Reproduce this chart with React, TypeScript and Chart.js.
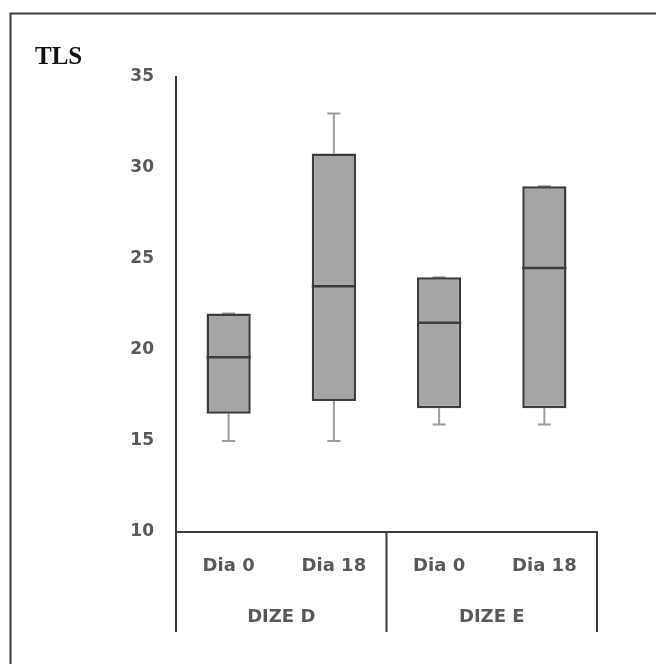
import React, { useEffect, useRef } from "react";
import { Chart, registerables } from "chart.js";

Chart.register(...registerables);

const categories = ["Dia 0", "Dia 18", "Dia 0", "Dia 18"];
const groups = ["DIZE D", "DIZE E"];
const minVals = [15, 15, 15.9, 15.9];
const q1Vals = [16.5, 17.2, 16.8, 16.8];
const medianVals = [19.6, 23.5, 21.5, 24.5];
const q3Vals = [22, 30.8, 24, 29];
const maxVals = [22, 33, 24, 29];
const yTicks = { min: 10, max: 35, step: 5 };
const titleText = "TLS";

const DARK = "#3c3c3c";
const WHISKER = "#9c9c9c";
const TEXT = "#595959";

const boxPlugin = {
  id: "boxExtras",
  beforeDraw(chart: any) {
    const ctx = chart.ctx;
    ctx.save();
    ctx.strokeStyle = "#3a3a3a";
    ctx.lineWidth = 2;
    ctx.strokeRect(10.5, 13.5, 2000, 2000);
    ctx.restore();
  },
  beforeDatasetsDraw(chart: any) {
    const ctx = chart.ctx;
    const y = chart.scales.y;
    const meta = chart.getDatasetMeta(0);
    ctx.save();
    meta.data.forEach((bar: any, i: number) => {
      const x = bar.x;
      const pMin = y.getPixelForValue(minVals[i]);
      const pQ1 = y.getPixelForValue(q1Vals[i]);
      const pQ3 = y.getPixelForValue(q3Vals[i]);
      const pMax = y.getPixelForValue(maxVals[i]);
      ctx.strokeStyle = WHISKER;
      ctx.lineWidth = 2;
      ctx.beginPath();
      ctx.moveTo(x, pQ1);
      ctx.lineTo(x, pMin);
      ctx.moveTo(x - 6.5, pMin);
      ctx.lineTo(x + 6.5, pMin);
      ctx.moveTo(x, pQ3);
      ctx.lineTo(x, pMax);
      ctx.moveTo(x - 6.5, pMax);
      ctx.lineTo(x + 6.5, pMax);
      ctx.stroke();
    });
    ctx.restore();
  },
  afterDatasetsDraw(chart: any) {
    const ctx = chart.ctx;
    const y = chart.scales.y;
    const meta = chart.getDatasetMeta(0);
    ctx.save();
    meta.data.forEach((bar: any, i: number) => {
      const x = bar.x;
      const half = bar.width / 2;
      const pMed = y.getPixelForValue(medianVals[i]);
      ctx.strokeStyle = DARK;
      ctx.lineWidth = 2.5;
      ctx.beginPath();
      ctx.moveTo(x - half, pMed);
      ctx.lineTo(x + half, pMed);
      ctx.stroke();
    });
    // group separators
    const xs = chart.scales.x;
    const x2 = chart.scales.x2;
    const mid = (xs.getPixelForValue(1) + xs.getPixelForValue(2)) / 2;
    ctx.strokeStyle = DARK;
    ctx.lineWidth = 2;
    ctx.beginPath();
    [xs.left, mid, xs.right].forEach((px: number) => {
      ctx.moveTo(px, xs.top);
      ctx.lineTo(px, x2.bottom);
    });
    ctx.stroke();
    ctx.restore();
  },
};

export default function App() {
  const ref = useRef<HTMLCanvasElement | null>(null);
  useEffect(() => {
    if (!ref.current) return;
    const chart = new Chart(ref.current, {
      type: "bar",
      data: {
        labels: categories,
        datasets: [
          {
            data: q1Vals.map((q, i) => [q, q3Vals[i]]) as any,
            backgroundColor: "#a6a6a6",
            borderColor: DARK,
            borderWidth: 2.5,
            borderSkipped: false,
            categoryPercentage: 1,
            barPercentage: 0.42,
          },
        ],
      },
      options: {
        responsive: false,
        animation: false,
        layout: { padding: { left: 35, right: 59, top: 0, bottom: 32 } },
        plugins: {
          legend: { display: false },
          tooltip: { enabled: false },
          title: {
            display: true,
            text: titleText,
            align: "start",
            color: "#111111",
            font: { family: "Liberation Serif", weight: "bold", size: 25, lineHeight: 1.2 },
            padding: { top: 43, bottom: 4 },
          },
        },
        scales: {
          y: {
            min: yTicks.min,
            max: yTicks.max,
            ticks: {
              stepSize: yTicks.step,
              padding: 22,
              color: TEXT,
              font: { family: "DejaVu Sans", weight: "bold", size: 17 },
            },
            grid: { display: false, drawTicks: false },
            border: { display: true, color: DARK, width: 2 },
            afterFit: (s: any) => {
              s.width = 141;
            },
          },
          x: {
            position: "bottom",
            ticks: {
              padding: 24,
              color: TEXT,
              font: { family: "DejaVu Sans", weight: "bold", size: 18 },
              maxRotation: 0,
              autoSkip: false,
            },
            grid: { display: false, drawTicks: false },
            border: { display: true, color: DARK, width: 2 },
            afterFit: (s: any) => {
              s.height = 50;
            },
          },
          x2: {
            type: "category",
            labels: groups,
            position: "bottom",
            offset: true,
            ticks: {
              padding: 25,
              color: TEXT,
              font: { family: "DejaVu Sans", weight: "bold", size: 18 },
              maxRotation: 0,
              autoSkip: false,
            },
            grid: { display: false, drawTicks: false },
            border: { display: false },
            afterFit: (s: any) => {
              s.height = 50;
            },
          },
        },
      } as any,
      plugins: [boxPlugin],
    });
    return () => chart.destroy();
  }, []);
  return (
    <div style={{ position: "absolute", left: 0, top: 0, width: 656, height: 664, overflow: "hidden", background: "#ffffff" }}>
      <canvas ref={ref} width={656} height={664} style={{ display: "block" }} />
    </div>
  );
}
